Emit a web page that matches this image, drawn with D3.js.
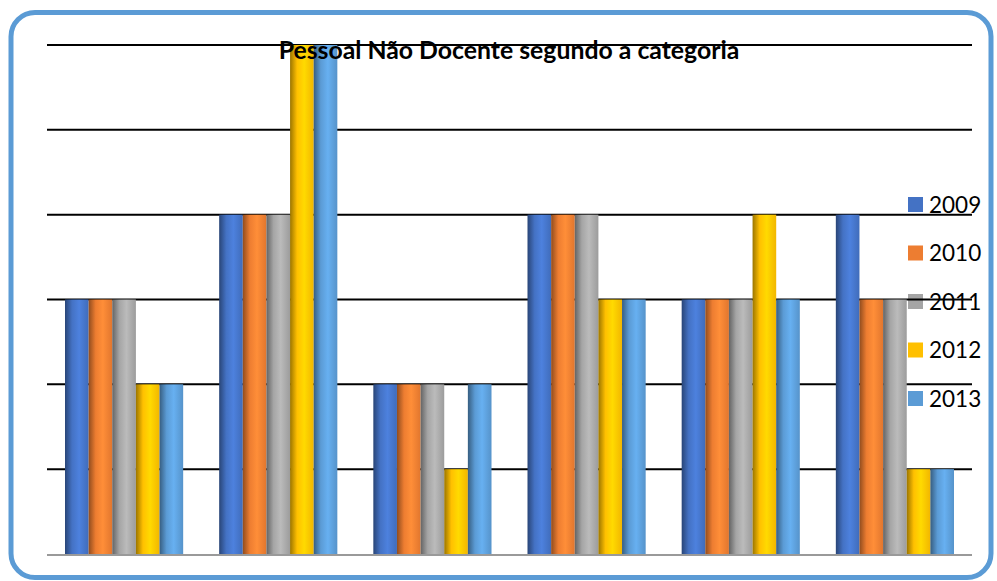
<!DOCTYPE html>
<html><head><meta charset="utf-8">
<script src="https://cdn.jsdelivr.net/npm/d3@7"></script>
<style>html,body{margin:0;padding:0;background:#fff;}svg{display:block;}</style>
</head><body>
<script>
const categories = ["A","B","C","D","E","F"];
const series = ["2009","2010","2011","2012","2013"];
const values2009 = [3,4,2,4,3,4];
const values2010 = [3,4,2,4,3,3];
const values2011 = [3,4,2,4,3,3];
const values2012 = [2,6,1,3,4,1];
const values2013 = [2,6,2,3,3,1];
const yTicks = [0,1,2,3,4,5,6];
const title = "Pessoal Não Docente segundo a categoria";
const colors = ["#4472C4","#ED7D31","#A5A5A5","#FFC000","#5B9BD5"];
const allValues = [values2009,values2010,values2011,values2012,values2013];

(function(){
const W=997,H=581;
const svg=d3.select("body").append("svg").attr("width",W).attr("height",H);
const defs=svg.append("defs");
colors.forEach((c,i)=>{
  const g=defs.append("linearGradient").attr("id","g"+i).attr("x1","0").attr("x2","1").attr("y1","0").attr("y2","0");
  const base=d3.rgb(c);
  g.append("stop").attr("offset","0%").attr("stop-color",base.darker(1.4));
  g.append("stop").attr("offset","30%").attr("stop-color",base);
  g.append("stop").attr("offset","60%").attr("stop-color",base.brighter(0.35));
  g.append("stop").attr("offset","100%").attr("stop-color",base.darker(0.15));
});

svg.append("rect").attr("x",11).attr("y",12.5).attr("width",980).attr("height",565)
  .attr("rx",24).attr("ry",24).attr("fill","#fff").attr("stroke","#5B9BD5").attr("stroke-width",5);

const pLeft=47,pRight=972,pTop=45,pBottom=554;
const x0=d3.scaleBand().domain(categories).range([pLeft,pRight]);
const x1=d3.scaleBand().domain(series).range([18,x0.bandwidth()-18]);
const y=d3.scaleLinear().domain([0,6]).range([pBottom,pTop]);

// legend
const lg=svg.append("g");
series.forEach((s,i)=>{
  const cy=204.5+i*48.5;
  lg.append("rect").attr("x",908).attr("y",cy-7.5).attr("width",15).attr("height",15).attr("fill",colors[i]);
  lg.append("text").attr("x",929).attr("y",cy).attr("dy","0.36em")
    .attr("font-family","Lato").attr("font-size",22.5).attr("fill","#000").text(s);
});

// gridlines
svg.append("g").selectAll("line").data(yTicks.filter(t=>t>0)).join("line")
  .attr("x1",pLeft).attr("x2",pRight).attr("y1",d=>y(d)).attr("y2",d=>y(d))
  .attr("stroke","#000").attr("stroke-width",2);

// bars
const bars=svg.append("g");
series.forEach((s,si)=>{
  bars.append("g").selectAll("rect").data(categories).join("rect")
    .attr("x",c=>x0(c)+x1(s)).attr("width",x1.bandwidth())
    .attr("y",(c,ci)=>y(allValues[si][ci])).attr("height",(c,ci)=>pBottom-y(allValues[si][ci]))
    .attr("fill","url(#g"+si+")");
});

// baseline
svg.append("line").attr("x1",pLeft).attr("x2",pRight).attr("y1",pBottom+1).attr("y2",pBottom+1)
  .attr("stroke","#9a9a9a").attr("stroke-width",2);

svg.append("text").attr("x",509).attr("y",59).attr("text-anchor","middle")
  .attr("font-family","Lato").attr("font-weight","bold").attr("font-size",24.8).attr("fill","#000").text(title);
})();
</script>
</body></html>
